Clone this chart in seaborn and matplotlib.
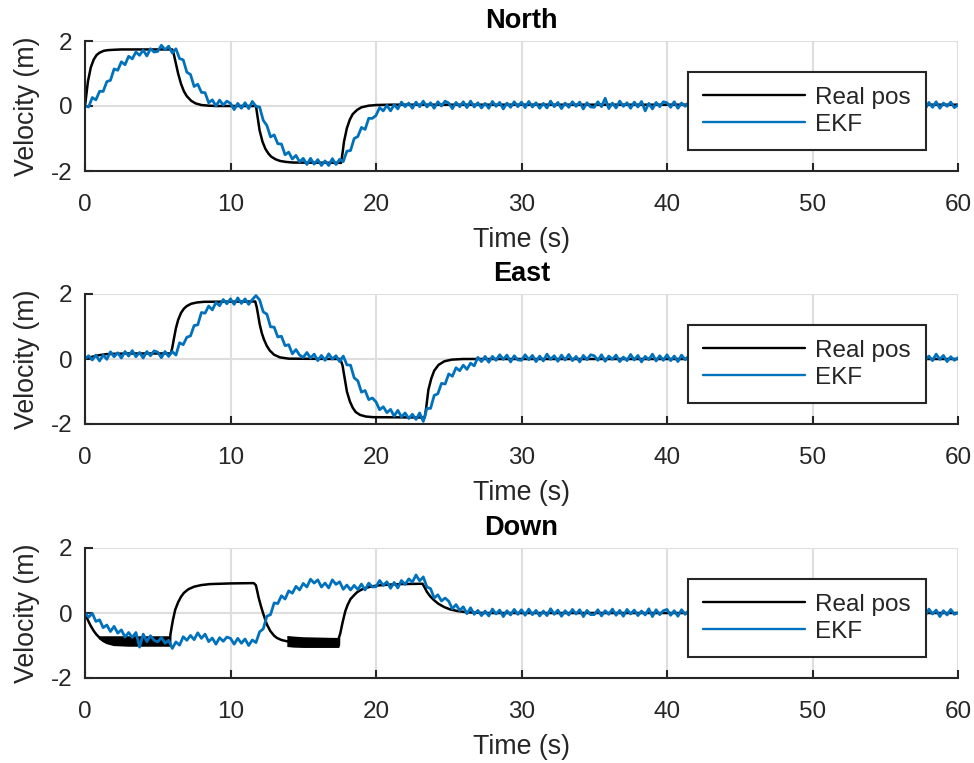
import numpy as np
import matplotlib
matplotlib.use("Agg")
import matplotlib.pyplot as plt
import seaborn as sns

# ---------------- data ----------------
panel_titles = ["North", "East", "Down"]
legend_labels = ["Real pos", "EKF"]
x_ticks = [0, 10, 20, 30, 40, 50, 60]
y_ticks = [-2, 0, 2]

# EKF estimates, sampled every 0.25 s from 0 to 60 s
north_ekf = [
    0.00, -0.03, 0.26, 0.19, 0.45, 0.45, 0.75, 0.79, 1.14, 1.10, 1.36, 1.27, 1.53, 1.45, 1.66, 1.56, 1.72, 1.54, 1.76, 1.66,
    1.68, 1.87, 1.73, 1.84, 1.63, 1.76, 1.46, 1.42, 1.04, 0.97, 0.60, 0.67, 0.42, 0.41, 0.10, 0.19, 0.00, 0.18, 0.03, 0.15,
    0.08, -0.11, 0.08, -0.07, 0.10, -0.08, 0.14, -0.01, -0.03, -0.44, -0.60, -0.95, -0.89, -1.16, -1.17, -1.50, -1.42, -1.63, -1.52, -1.72,
    -1.61, -1.80, -1.61, -1.79, -1.65, -1.83, -1.69, -1.83, -1.62, -1.80, -1.64, -1.71, -1.39, -1.37, -1.00, -0.94, -0.66, -0.72, -0.38, -0.38,
    -0.29, -0.05, -0.15, 0.02, -0.15, 0.04, -0.09, 0.12, -0.02, 0.09, -0.07, 0.12, -0.02, 0.15, -0.03, 0.10, -0.07, 0.13, 0.00, 0.15,
    0.09, -0.08, 0.11, -0.02, 0.13, -0.05, 0.15, -0.03, 0.10, -0.06, 0.08, -0.07, 0.14, -0.01, 0.11, -0.09, 0.09, -0.04, 0.13, -0.02,
    0.12, -0.05, 0.14, -0.03, 0.10, -0.07, 0.08, -0.06, 0.15, -0.02, 0.11, -0.08, 0.09, -0.04, 0.13, -0.01, 0.12, -0.09, 0.10, -0.03,
    -0.04, 0.13, -0.02, 0.24, -0.08, 0.09, -0.06, 0.15, -0.01, 0.10, -0.07, 0.12, -0.03, 0.14, -0.15, 0.08, -0.09, 0.11, -0.02, 0.13,
    0.10, -0.04, 0.13, -0.07, 0.09, -0.01, 0.12, -0.08, 0.06, -0.05, 0.14, -0.03, 0.11, -0.09, 0.08, -0.02, 0.15, -0.06, 0.10, -0.04,
    -0.03, 0.12, -0.07, 0.09, -0.02, 0.14, -0.05, 0.10, -0.08, 0.13, -0.01, 0.11, -0.06, 0.08, -0.04, 0.15, -0.09, 0.12, -0.03, 0.09,
    0.11, -0.06, 0.14, -0.02, 0.08, -0.09, 0.12, -0.04, 0.10, -0.07, 0.13, -0.03, 0.09, -0.05, 0.15, -0.01, 0.11, -0.08, 0.07, -0.04,
    0.13, -0.05, 0.09, -0.08, 0.12, -0.02, 0.10, -0.06, 0.14, -0.03, 0.08, -0.09, 0.11, -0.04, 0.13, -0.07, 0.09, -0.01, 0.12, -0.05,
    0.03,
]

east_ekf = [
    0.00, 0.10, -0.03, 0.12, -0.06, 0.12, -0.01, 0.22, 0.07, 0.19, 0.03, 0.23, 0.09, 0.26, 0.07, 0.20, 0.03, 0.23, 0.10, 0.25,
    0.21, 0.04, 0.23, 0.08, 0.23, 0.12, 0.50, 0.44, 0.67, 0.71, 1.03, 1.05, 1.43, 1.41, 1.63, 1.51, 1.74, 1.64, 1.83, 1.70,
    1.85, 1.68, 1.88, 1.71, 1.85, 1.68, 1.83, 1.95, 1.82, 1.45, 1.38, 0.99, 0.98, 0.68, 0.70, 0.41, 0.44, 0.16, 0.29, 0.12,
    0.05, 0.20, 0.03, 0.15, -0.05, 0.11, -0.04, 0.16, 0.00, 0.10, -0.08, 0.09, -0.18, -0.19, -0.58, -0.67, -1.02, -0.97, -1.25, -1.20,
    -1.32, -1.56, -1.47, -1.65, -1.55, -1.76, -1.58, -1.78, -1.66, -1.83, -1.70, -1.86, -1.66, -1.92, -1.52, -1.52, -1.12, -1.07, -0.75, -0.77,
    -0.46, -0.53, -0.27, -0.36, -0.19, -0.32, -0.13, -0.21, 0.05, -0.08, 0.08, -0.10, 0.08, -0.04, 0.13, -0.01, 0.12, -0.09, 0.10, -0.03,
    -0.04, 0.13, -0.02, 0.11, -0.08, 0.09, -0.06, 0.15, -0.01, 0.10, -0.07, 0.12, -0.03, 0.14, -0.05, 0.08, -0.09, 0.11, -0.02, 0.13,
    0.10, -0.04, 0.13, -0.07, 0.09, -0.01, 0.12, -0.08, 0.06, -0.05, 0.14, -0.03, 0.11, -0.09, 0.08, -0.02, 0.15, -0.06, 0.10, -0.04,
    0.13, -0.05, 0.09, -0.08, 0.12, -0.02, 0.10, -0.06, 0.14, -0.03, 0.08, -0.09, 0.11, -0.04, 0.13, -0.07, 0.09, -0.01, 0.12, -0.05,
    -0.03, 0.12, -0.07, 0.09, -0.02, 0.14, -0.05, 0.10, -0.08, 0.13, -0.01, 0.11, -0.06, 0.08, -0.04, 0.15, -0.09, 0.12, -0.03, 0.09,
    0.09, -0.08, 0.11, -0.02, 0.13, -0.05, 0.15, -0.03, 0.10, -0.06, 0.08, -0.07, 0.14, -0.01, 0.11, -0.09, 0.09, -0.04, 0.13, -0.02,
    0.11, -0.06, 0.14, -0.02, 0.08, -0.09, 0.12, -0.04, 0.10, -0.07, 0.13, -0.03, 0.09, -0.05, 0.15, -0.01, 0.11, -0.08, 0.07, -0.04,
    0.04,
]

down_ekf = [
    0.00, -0.13, -0.01, -0.26, -0.21, -0.45, -0.37, -0.57, -0.41, -0.62, -0.52, -0.74, -0.60, -0.75, -0.60, -1.05, -0.65, -0.88, -0.70, -0.84,
    -0.89, -0.75, -0.93, -0.84, -1.09, -0.89, -0.99, -0.73, -0.84, -0.69, -0.82, -0.61, -0.78, -0.65, -0.88, -0.77, -0.96, -0.76, -0.87, -0.74,
    -0.78, -0.96, -0.78, -0.93, -0.80, -1.00, -0.83, -0.91, -0.58, -0.49, -0.10, -0.05, 0.31, 0.29, 0.53, 0.43, 0.68, 0.61, 0.82, 0.71,
    0.91, 0.80, 1.04, 0.92, 1.02, 0.80, 0.92, 0.77, 1.02, 0.88, 0.96, 0.73, 0.86, 0.71, 0.85, 0.72, 0.89, 0.71, 0.92, 0.80,
    0.81, 1.00, 0.85, 0.96, 0.76, 0.94, 0.77, 1.00, 0.88, 1.05, 0.95, 1.17, 0.99, 1.11, 0.80, 0.75, 0.46, 0.56, 0.37, 0.46,
    0.36, 0.13, 0.26, 0.08, 0.19, -0.02, 0.16, -0.04, 0.08, -0.08, 0.06, -0.09, 0.12, -0.03, 0.09, -0.11, 0.07, -0.06, 0.11, -0.04,
    0.10, -0.07, 0.12, -0.05, 0.08, -0.09, 0.06, -0.08, 0.13, -0.04, 0.09, -0.10, 0.07, -0.06, 0.11, -0.03, 0.10, -0.11, 0.08, -0.05,
    -0.05, 0.10, -0.09, 0.07, -0.04, 0.12, -0.07, 0.08, -0.10, 0.11, -0.03, 0.09, -0.08, 0.06, -0.06, 0.13, -0.11, 0.10, -0.05, 0.07,
    0.11, -0.07, 0.07, -0.10, 0.10, -0.04, 0.08, -0.08, 0.12, -0.05, 0.06, -0.11, 0.09, -0.06, 0.11, -0.09, 0.07, -0.03, 0.10, -0.07,
    0.08, -0.06, 0.11, -0.09, 0.07, -0.03, 0.10, -0.10, 0.04, -0.07, 0.12, -0.05, 0.09, -0.11, 0.06, -0.04, 0.13, -0.08, 0.08, -0.06,
    0.09, -0.08, 0.12, -0.04, 0.06, -0.11, 0.10, -0.06, 0.08, -0.09, 0.11, -0.05, 0.07, -0.07, 0.13, -0.03, 0.09, -0.10, 0.05, -0.06,
    0.07, -0.10, 0.09, -0.04, 0.11, -0.07, 0.13, -0.05, 0.08, -0.08, 0.06, -0.09, 0.12, -0.03, 0.09, -0.11, 0.07, -0.06, 0.11, -0.04,
    0.01,
]

north_real_t = [0, 0.2, 0.4, 0.6, 0.8, 1.0, 1.3, 1.6, 2.0, 2.5, 6.0, 6.1, 6.2, 6.4, 6.6, 6.8, 7.0, 7.3, 7.6, 8.0,
                8.5, 9.0, 11.75, 11.85, 12.0, 12.2, 12.4, 12.6, 12.8, 13.1, 13.4, 13.8, 14.3, 17.6, 17.7, 17.8, 18.0, 18.2,
                18.4, 18.7, 19.0, 19.5, 20.0, 21.0, 60.0]
north_real_v = [0, 0.75, 1.19, 1.43, 1.57, 1.64, 1.70, 1.72, 1.73, 1.74, 1.74, 1.6, 1.4, 1.0, 0.68, 0.45, 0.3, 0.16, 0.08, 0.03,
                0.01, 0.0, 0.0, -0.3, -0.75, -1.1, -1.32, -1.46, -1.56, -1.64, -1.69, -1.72, -1.74, -1.75, -1.45, -1.1, -0.68, -0.42,
                -0.25, -0.12, -0.04, 0.01, 0.03, 0.04, 0.04]

east_real_t = [0, 0.5, 1.0, 1.5, 2.0, 3.0, 5.9, 6.0, 6.1, 6.25, 6.4, 6.6, 6.8, 7.0, 7.3, 7.7, 8.2, 11.7, 11.8, 11.9,
               12.0, 12.15, 12.3, 12.5, 12.7, 13.0, 13.4, 14.0, 17.55, 17.7, 17.85, 18.0, 18.2, 18.4, 18.6, 18.9, 19.3, 19.8,
               23.35, 23.45, 23.6, 23.8, 24.0, 24.3, 24.7, 25.2, 26.0, 60.0]
east_real_v = [0, 0.07, 0.12, 0.15, 0.16, 0.17, 0.17, 0.35, 0.6, 0.95, 1.2, 1.42, 1.55, 1.63, 1.7, 1.74, 1.76, 1.77, 1.6, 1.35,
               1.08, 0.8, 0.6, 0.4, 0.26, 0.13, 0.05, 0.01, 0.0, -0.2, -0.6, -1.0, -1.3, -1.5, -1.63, -1.72, -1.77, -1.79,
               -1.8, -1.5, -0.95, -0.6, -0.36, -0.18, -0.07, -0.02, 0.0, 0.0]

down_real_t = [0, 0.2, 0.4, 0.6, 0.8, 1.0, 1.25, 1.5, 2.0, 3.0, 5.85, 5.86, 5.95, 6.05, 6.2, 6.4, 6.6, 6.8, 7.1, 7.5,
               8.0, 8.6, 10.0, 11.6, 11.75, 11.93, 12.1, 12.27, 12.5, 12.73, 13.0, 13.2, 13.5, 13.87, 17.45, 17.46, 17.55,
               17.65, 17.75, 17.9, 18.05, 18.25, 18.5, 18.7, 19.0, 19.3, 19.7, 20.2, 20.8, 21.7, 23.2, 23.35, 23.5, 23.75,
               24.0, 24.3, 24.7, 25.1, 25.6, 26.3, 27.4, 60.0]
down_real_v = [0, -0.22, -0.40, -0.55, -0.67, -0.76, -0.85, -0.92, -0.98, -1.0, -1.0, -0.70, -0.45, -0.2, 0.1, 0.33, 0.5, 0.62,
               0.73, 0.81, 0.86, 0.89, 0.91, 0.92, 0.85, 0.48, 0.2, -0.05, -0.35, -0.55, -0.7, -0.77, -0.83, -0.87, -1.0, -0.75,
               -0.62, -0.4, -0.2, 0.07, 0.25, 0.43, 0.55, 0.64, 0.72, 0.77, 0.82, 0.85, 0.87, 0.89, 0.9, 0.78, 0.65, 0.5,
               0.39, 0.28, 0.18, 0.11, 0.06, 0.02, 0.0, 0.0]

# fast oscillation envelopes of the real Down velocity (drawn as solid bands)
down_band1_t = [0.9, 1.2, 1.5, 2.0, 3.0, 4.0, 5.85]
down_band1_lo = [-0.78, -0.88, -0.93, -0.98, -1.0, -1.0, -1.0]
down_band1_hi = [-0.70, -0.70, -0.70, -0.70, -0.70, -0.70, -0.70]
down_band2_t = [13.87, 14.3, 15.0, 16.0, 17.0, 17.45]
down_band2_lo = [-1.03, -1.05, -1.06, -1.06, -1.06, -1.06]
down_band2_hi = [-0.69, -0.71, -0.73, -0.74, -0.75, -0.75]

# ---------------- style ----------------
sns.set_theme(style="white")
plt.rcParams['font.family'] = ['Liberation Sans', 'DejaVu Sans']
plt.rcParams['axes.unicode_minus'] = False

BLUE = "#0072BD"
DARK = "#262626"
GRID = "#dedede"
FS = 17.5
FS_LAB = 19.3

fig = plt.figure(figsize=(9.74, 7.63), dpi=100)
W, H = 974.0, 763.0
ax_px = [(41, 171), (294, 424), (548, 678)]
left_px, right_px = 85.0, 958.0
leg_x0, leg_w = (688 - 85) / 873.0, (926 - 688) / 873.0

ekf_all = [north_ekf, east_ekf, down_ekf]
real_all = [(north_real_t, north_real_v), (east_real_t, east_real_v), (down_real_t, down_real_v)]

for i, (top, bot) in enumerate(ax_px):
    ax = fig.add_axes([left_px / W, 1 - bot / H, (right_px - left_px) / W, (bot - top) / H])
    ekf = np.asarray(ekf_all[i])
    t_ekf = np.linspace(0, 60, len(ekf))
    rt, rv = real_all[i]

    sns.lineplot(x=np.asarray(rt), y=np.asarray(rv), ax=ax, color="black", lw=1.8,
                 estimator=None, sort=False, label=legend_labels[0], zorder=3)
    if i == 2:
        ax.fill_between(down_band1_t, down_band1_lo, down_band1_hi, color="black", lw=0, zorder=3)
        ax.fill_between(down_band2_t, down_band2_lo, down_band2_hi, color="black", lw=0, zorder=3)
    sns.lineplot(x=t_ekf, y=ekf, ax=ax, color=BLUE, lw=2.0,
                 estimator=None, sort=False, label=legend_labels[1], zorder=4)

    ax.set_xlim(0, 60)
    ax.set_ylim(-2, 2)
    ax.set_xticks(x_ticks)
    ax.set_yticks(y_ticks)
    ax.set_xticklabels([str(v) for v in x_ticks])
    ax.set_yticklabels([str(v) for v in y_ticks])
    ax.grid(True, color=GRID, lw=1.5, zorder=0)
    ax.set_axisbelow(True)
    for s in ["top", "right"]:
        ax.spines[s].set_visible(False)
    for s in ["left", "bottom"]:
        ax.spines[s].set_color(DARK)
        ax.spines[s].set_linewidth(1.5)
        ax.spines[s].set_zorder(5)
    ax.tick_params(axis="both", direction="in", length=6, width=1.5, colors=DARK,
                   labelsize=FS, top=False, right=False, bottom=True, left=True)
    ax.tick_params(axis="x", pad=16.9)
    ax.tick_params(axis="y", pad=9)
    ax.set_xlabel("Time (s)", fontsize=FS_LAB, color=DARK, labelpad=7.6)
    ax.set_ylabel("Velocity (m)", fontsize=FS_LAB, color=DARK, labelpad=7.6)
    ax.set_title(panel_titles[i], fontsize=19.5, fontweight="bold", color="black", pad=9.4)

    leg = ax.legend(loc="center", bbox_to_anchor=(leg_x0, 0.46, leg_w, 0.0), mode="expand",
                    fontsize=FS, frameon=True, fancybox=False, edgecolor=DARK, framealpha=1,
                    handlelength=4.2, handletextpad=0.42, labelspacing=0.2, borderpad=0.6,
                    borderaxespad=0)
    leg.get_frame().set_linewidth(1.5)
    for line in leg.get_lines():
        line.set_linewidth(1.7)
    leg.set_zorder(10)

fig.savefig("out.png", dpi=100)
